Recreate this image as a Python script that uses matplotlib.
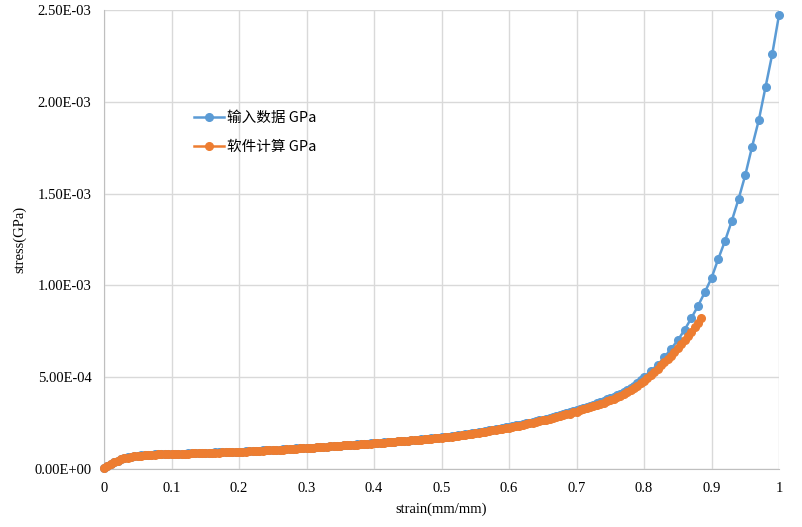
import matplotlib
matplotlib.use("Agg")
import matplotlib.pyplot as plt
import numpy as np

### Couleurs (Excel)
bleu = "#5B9BD5"
orange = "#ED7D31"
gris = "#D9D9D9"

### Données (stress en 1e-3 GPa)
strain_in = np.round(np.concatenate([np.arange(0, 0.8001, 0.005),
                                     np.arange(0.81, 1.0001, 0.01)]), 3)
stress_in = [
    0.005, 0.017, 0.028, 0.038, 0.046, 0.053, 0.059, 0.063, 0.067, 0.070,
    0.072, 0.074, 0.076, 0.077, 0.078, 0.079, 0.080, 0.080, 0.081, 0.082,
    0.082, 0.083, 0.083, 0.084, 0.084, 0.085, 0.086, 0.086, 0.087, 0.087,
    0.088, 0.088, 0.089, 0.090, 0.090, 0.091, 0.092, 0.092, 0.093, 0.093,
    0.094, 0.095, 0.096, 0.097, 0.098, 0.099, 0.100, 0.101, 0.102, 0.103,
    0.104, 0.105, 0.106, 0.107, 0.108, 0.110, 0.111, 0.112, 0.113, 0.114,
    0.115, 0.116, 0.117, 0.119, 0.120, 0.121, 0.122, 0.124, 0.125, 0.126,
    0.127, 0.129, 0.130, 0.131, 0.132, 0.134, 0.135, 0.136, 0.137, 0.139,
    0.140, 0.142, 0.143, 0.145, 0.146, 0.148, 0.149, 0.151, 0.152, 0.154,
    0.155, 0.157, 0.158, 0.160, 0.162, 0.164, 0.165, 0.167, 0.169, 0.171,
    0.173, 0.175, 0.177, 0.180, 0.182, 0.185, 0.187, 0.190, 0.192, 0.195,
    0.198, 0.201, 0.204, 0.207, 0.210, 0.213, 0.216, 0.220, 0.223, 0.227,
    0.230, 0.234, 0.237, 0.241, 0.244, 0.248, 0.252, 0.256, 0.260, 0.265,
    0.269, 0.274, 0.278, 0.283, 0.288, 0.293, 0.298, 0.304, 0.309, 0.315,
    0.320, 0.326, 0.332, 0.338, 0.344, 0.351, 0.357, 0.364, 0.371, 0.379,
    0.386, 0.394, 0.402, 0.410, 0.418, 0.429, 0.440, 0.453, 0.468, 0.484,
    0.501,
    0.535, 0.566, 0.608, 0.654, 0.701, 0.757, 0.821, 0.888, 0.962, 1.040,
    1.144, 1.242, 1.351, 1.469, 1.600, 1.754, 1.899, 2.079, 2.260, 2.473,
]

strain_calc = np.round(np.arange(0, 0.8851, 0.005), 3)
stress_calc = [
    0.005, 0.016, 0.027, 0.037, 0.045, 0.052, 0.058, 0.062, 0.066, 0.069,
    0.071, 0.073, 0.075, 0.076, 0.077, 0.078, 0.079, 0.079, 0.080, 0.081,
    0.081, 0.082, 0.082, 0.083, 0.083, 0.084, 0.085, 0.085, 0.086, 0.086,
    0.087, 0.087, 0.088, 0.089, 0.089, 0.090, 0.091, 0.091, 0.092, 0.092,
    0.093, 0.094, 0.095, 0.096, 0.097, 0.098, 0.099, 0.100, 0.101, 0.102,
    0.103, 0.104, 0.105, 0.106, 0.107, 0.109, 0.110, 0.111, 0.112, 0.113,
    0.114, 0.115, 0.116, 0.118, 0.119, 0.120, 0.121, 0.123, 0.124, 0.125,
    0.126, 0.128, 0.129, 0.130, 0.131, 0.133, 0.134, 0.135, 0.136, 0.138,
    0.139, 0.141, 0.142, 0.144, 0.145, 0.147, 0.148, 0.150, 0.151, 0.153,
    0.154, 0.156, 0.157, 0.159, 0.160, 0.162, 0.163, 0.165, 0.167, 0.169,
    0.171, 0.173, 0.175, 0.177, 0.180, 0.182, 0.185, 0.187, 0.190, 0.193,
    0.196, 0.198, 0.201, 0.204, 0.207, 0.210, 0.213, 0.216, 0.219, 0.223,
    0.226, 0.229, 0.233, 0.236, 0.240, 0.244, 0.248, 0.252, 0.256, 0.260,
    0.265, 0.269, 0.274, 0.278, 0.283, 0.288, 0.292, 0.297, 0.302, 0.308,
    0.313, 0.319, 0.325, 0.330, 0.336, 0.342, 0.348, 0.355, 0.361, 0.368,
    0.375, 0.383, 0.391, 0.399, 0.408, 0.418, 0.428, 0.440, 0.452, 0.466,
    0.480, 0.495, 0.511, 0.528, 0.546, 0.565, 0.585, 0.601, 0.618, 0.637,
    0.657, 0.679, 0.701, 0.725, 0.748, 0.771, 0.796, 0.821,
]

yticks = [0, 0.5e-3, 1.0e-3, 1.5e-3, 2.0e-3, 2.5e-3]
ylabels = ["0.00E+00", "5.00E-04", "1.00E-03", "1.50E-03", "2.00E-03", "2.50E-03"]
xticks = [0, 0.1, 0.2, 0.3, 0.4, 0.5, 0.6, 0.7, 0.8, 0.9, 1]
xlabels = ["0", "0.1", "0.2", "0.3", "0.4", "0.5", "0.6", "0.7", "0.8", "0.9", "1"]

### Tracé
serif = ["Liberation Serif", "DejaVu Serif"]
fig = plt.figure(figsize=(8.02, 5.27), dpi=100)
ax = fig.add_axes([104/802, 1-469/527, 675/802, 459/527])

ax.plot(strain_in, np.array(stress_in)*1e-3, color=bleu, lw=1.8,
        marker="o", ms=5.5, label="输入数据 GPa", zorder=3, clip_on=False)
ax.plot(strain_calc, np.array(stress_calc)*1e-3, color=orange, lw=1.8,
        marker="o", ms=5.5, label="软件计算 GPa", zorder=4, clip_on=False)

ax.set_xlim(0, 1)
ax.set_ylim(0, 2.5e-3)
ax.set_xticks(xticks)
ax.set_xticklabels(xlabels, family=serif, fontsize=10.5)
ax.set_yticks(yticks)
ax.set_yticklabels(ylabels, family=serif, fontsize=10.5)
ax.tick_params(length=0, pad=9)
ax.grid(True, color=gris, lw=1)
ax.set_axisbelow(True)
for s in ["top", "right"]:
    ax.spines[s].set_visible(False)
for s in ["left", "bottom"]:
    ax.spines[s].set_color("#BFBFBF")

ax.set_xlabel("strain(mm/mm)", family=serif, fontsize=10.5, labelpad=6)
ax.set_ylabel("stress(GPa)", family=serif, fontsize=10.5, labelpad=6)

ax.legend(loc="upper left", bbox_to_anchor=(0.133, 0.780), frameon=False,
          prop={"family": ["Noto Sans CJK SC", "DejaVu Sans"], "size": 10.5},
          handlelength=2.1, handletextpad=0.2, labelspacing=1.05,
          borderpad=0, borderaxespad=0)

fig.savefig("out.png", dpi=100)
